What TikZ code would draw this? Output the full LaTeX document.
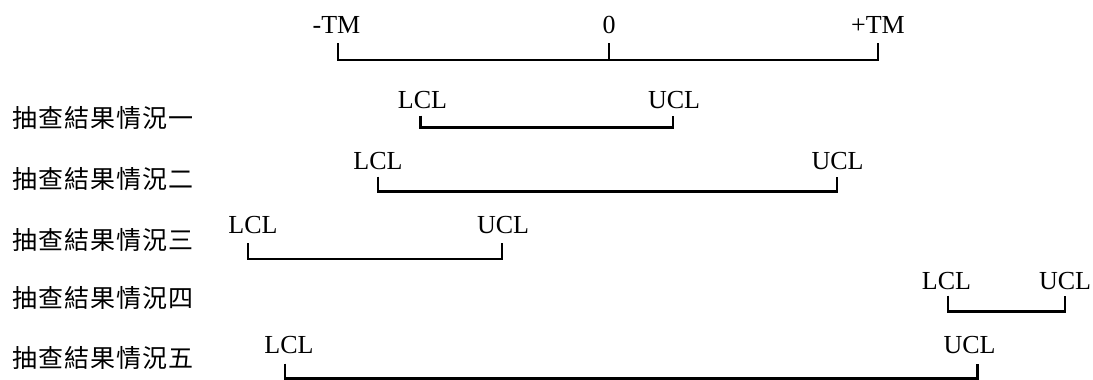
\documentclass[tikz,border=0pt]{standalone}
\usepackage{fontspec}
\setmainfont{Liberation Serif}
\newfontfamily\cjkfont[LetterSpace=4]{Noto Sans CJK TC}
\usetikzlibrary{positioning}
\tikzset{%
    tag/.style = {inner sep=0pt, font=\fontsize{26}{30}\selectfont},
    case/.style = {anchor=west, inner sep=0pt, font=\cjkfont\fontsize{25}{30}\selectfont},
    bar/.style = {line width=2.4pt, line join=miter},
}

\begin{document}
\begin{tikzpicture}[x=1pt, y=-1pt]
        \useasboundingbox (0,0) rectangle (1093,380);

        % row captions
        \foreach \i/\y/\n in {1/118/一, 2/179/二, 3/240/三, 4/298/四, 5/358/五}
            \node[case] (case\i) at (12,\y) {抽查結果情況\n};

        % tolerance axis
        \draw
            node at (336.5,24.5) [tag] (mtm) {-TM}
            node at (609,24.5) [tag] (zero) {0}
            node at (878,24.5) [tag] (ptm) {+TM};
        \coordinate (tmL) at (338,60);
        \coordinate (tmO) at (609,60);
        \coordinate (tmR) at (878,60);
        \draw[bar] ([yshift=17pt]tmL) -- (tmL) -- (tmR) -- ([yshift=17pt]tmR);
        \draw[bar] ([yshift=17pt]tmO) -- (tmO);

        % limits for each case
        \draw
            node at (422.5,100) [tag] (lcl1) {LCL}
            node at (674,100) [tag] (ucl1) {UCL}
            node at (378,161) [tag] (lcl2) {LCL}
            node at (837.5,161) [tag] (ucl2) {UCL}
            node at (253,225.5) [tag] (lcl3) {LCL}
            node at (503,225.5) [tag] (ucl3) {UCL}
            node at (946.5,281.5) [tag] (lcl4) {LCL}
            node at (1065,281.5) [tag] (ucl4) {UCL}
            node at (289,345.5) [tag] (lcl5) {LCL}
            node at (969.5,345.5) [tag] (ucl5) {UCL};

        \coordinate (L1) at (420.5,127.5);  \coordinate (U1) at (673,127.5);
        \coordinate (L2) at (378,191.5);    \coordinate (U2) at (837,191.5);
        \coordinate (L3) at (248,259);      \coordinate (U3) at (502,259);
        \coordinate (L4) at (948,311.5);    \coordinate (U4) at (1065,311.5);
        \coordinate (L5) at (285,378.5);    \coordinate (U5) at (977.5,378.5);

        \draw[bar] ([yshift=12pt]L1) -- (L1) -- (U1) -- ([yshift=12pt]U1);
        \draw[bar] ([yshift=15pt]L2) -- (L2) -- (U2) -- ([yshift=15pt]U2);
        \draw[bar] ([yshift=16pt]L3) -- (L3) -- (U3) -- ([yshift=16pt]U3);
        \draw[bar] ([yshift=16pt]L4) -- (L4) -- (U4) -- ([yshift=16pt]U4);
        \draw[bar] ([yshift=15pt]L5) -- (L5) -- (U5) -- ([yshift=15pt]U5);
    \end{tikzpicture}
\end{document}
